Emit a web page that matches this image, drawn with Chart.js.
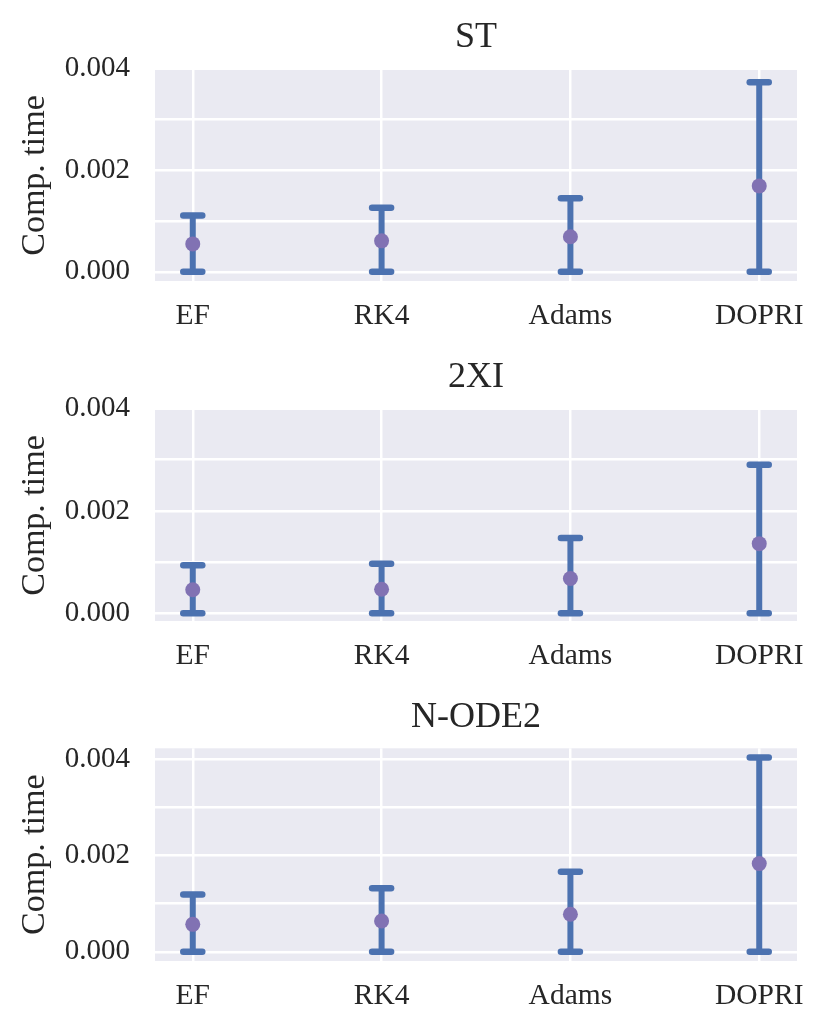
<!DOCTYPE html>
<html>
<head>
<meta charset="utf-8">
<title>Comp. time</title>
<script src="https://cdn.jsdelivr.net/npm/chart.js@4.4.0/dist/chart.umd.min.js"></script>
<style>
  body { margin: 0; background: #fff; }
  canvas { display: block; }
</style>
</head>
<body>
<canvas id="st" width="831" height="340"></canvas>
<canvas id="xi" width="831" height="340"></canvas>
<canvas id="node" width="831" height="352"></canvas>
<script>
// Solvers on the x axis and the y tick values
const methods = ['EF', 'RK4', 'Adams', 'DOPRI'];
const yTicks = [0, 0.001, 0.002, 0.003, 0.004];

// ST: mean computation time and error bar ends
const stMean = [0.00055, 0.00061, 0.00069, 0.00169];
const stLower = [0, 0, 0, 0];
const stUpper = [0.00111, 0.00126, 0.00145, 0.00373];

// 2XI
const xiMean = [0.00046, 0.00047, 0.00068, 0.00136];
const xiLower = [0, 0, 0, 0];
const xiUpper = [0.00094, 0.00097, 0.00147, 0.0029];

// N-ODE2
const nodeMean = [0.00057, 0.00064, 0.00078, 0.00183];
const nodeLower = [0, 0, 0, 0];
const nodeUpper = [0.00119, 0.00132, 0.00166, 0.00403];

const textColor = '#262626';
Chart.defaults.font.family = "'Liberation Serif', 'DejaVu Serif', serif";
Chart.defaults.color = textColor;

// Fills the plot area with the seaborn grey before the grid is drawn
const plotBackground = {
    id: 'plotBackground',
    beforeDraw(chart) {
        const { ctx, chartArea: a } = chart;
        ctx.save();
        ctx.fillStyle = '#EAEAF2';
        ctx.fillRect(a.left, a.top, a.width, a.height);
        ctx.restore();
    },
    // round ends on the error bar caps
    beforeDatasetsDraw(chart) {
        chart.ctx.save();
        chart.ctx.lineCap = 'round';
    },
    afterDatasetsDraw(chart) {
        chart.ctx.restore();
    }
};

// One vertical segment per method, separated by null gaps
function errorBarPoints(lower, upper) {
    const pts = [];
    lower.forEach((lo, i) => {
        pts.push({ x: i, y: lo }, { x: i, y: upper[i] }, { x: i, y: null });
    });
    return pts;
}

function drawPanel(id, title, mean, lower, upper, yMin, yMax, titleBottom, xHeight) {
    const ctx = document.getElementById(id).getContext('2d');
    new Chart(ctx, {
        type: 'scatter',
        data: {
            datasets: [{
                label: 'mean',
                data: mean.map((v, i) => ({ x: i, y: v })),
                pointRadius: 7.5,
                pointBackgroundColor: '#8172B3',
                pointBorderWidth: 0,
                order: 0
            }, {
                label: 'error',
                data: errorBarPoints(lower, upper),
                showLine: true,
                spanGaps: false,
                borderColor: '#4C72B0',
                borderWidth: 6,
                borderCapStyle: 'butt',
                pointStyle: 'line',
                pointRadius: 9.5,
                pointBorderColor: '#4C72B0',
                pointBorderWidth: 6.5,
                order: 1
            }]
        },
        options: {
            responsive: false,
            animation: false,
            events: [],
            layout: { padding: { left: 0, right: 34, top: 0, bottom: 0 } },
            plugins: {
                legend: { display: false },
                tooltip: { enabled: false },
                title: {
                    display: true,
                    text: title,
                    fullSize: false,
                    color: textColor,
                    font: { size: 36, weight: 'normal' },
                    padding: { top: 15.5, bottom: titleBottom }
                }
            },
            scales: {
                x: {
                    type: 'linear',
                    min: -0.2,
                    max: 3.2,
                    afterBuildTicks: scale => {
                        scale.ticks = methods.map((_, i) => ({ value: i }));
                    },
                    afterFit: scale => { scale.height = xHeight; },
                    ticks: {
                        callback: value => methods[value],
                        autoSkip: false,
                        maxRotation: 0,
                        padding: 17.5,
                        color: textColor,
                        font: { size: 29.5 }
                    },
                    grid: { color: '#ffffff', lineWidth: 2.5, drawTicks: false },
                    border: { display: false }
                },
                y: {
                    min: yMin,
                    max: yMax,
                    afterBuildTicks: scale => {
                        scale.ticks = yTicks.filter(v => v <= yMax + 0.0001).map(v => ({ value: v }));
                    },
                    afterFit: scale => { scale.width = 155; },
                    ticks: {
                        callback: value => (Math.round(value * 1000) % 2 === 0 ? value.toFixed(3) : ''),
                        padding: 25,
                        color: textColor,
                        font: { size: 29 }
                    },
                    grid: { color: '#ffffff', lineWidth: 2.5, drawTicks: false },
                    border: { display: false },
                    title: {
                        display: true,
                        text: 'Comp. time',
                        color: textColor,
                        font: { size: 34, weight: 'normal' },
                        padding: { top: 15, bottom: 0 }
                    }
                }
            }
        },
        plugins: [plotBackground]
    });
}

drawPanel('st', 'ST', stMean, stLower, stUpper, -0.00018, 0.00397, 11.3, 59);
drawPanel('xi', '2XI', xiMean, xiLower, xiUpper, -0.00015, 0.00397, 11.3, 59);
drawPanel('node', 'N-ODE2', nodeMean, nodeLower, nodeUpper, -0.00019, 0.00422, 9.6, 71);
</script>
</body>
</html>
